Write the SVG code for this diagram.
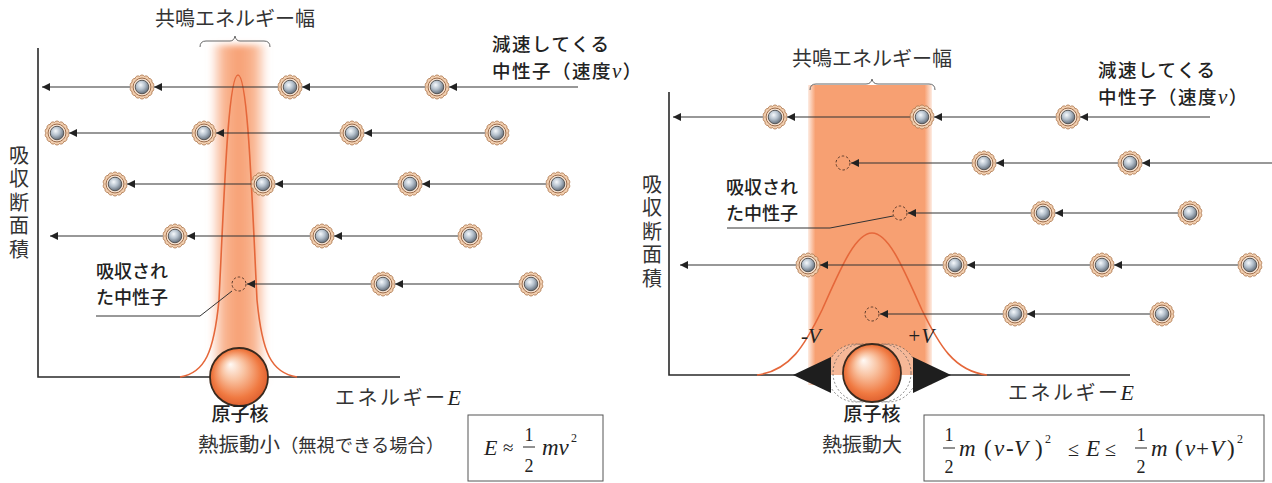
<svg xmlns="http://www.w3.org/2000/svg" width="1272" height="483" viewBox="0 0 1272 483">
  <style>
    .axis { stroke: #2a2a2a; stroke-width: 1.6; fill: none; }
    .conn { stroke: #333; stroke-width: 1.2; fill: none; marker-end: url(#arrow); }
    .curve { stroke: #e5673a; stroke-width: 1.6; fill: none; }
    .brace { stroke: #666; stroke-width: 1; fill: none; }
    .leader { stroke: #333; stroke-width: 1; fill: none; }
    .absorbed { stroke: #5a3a2a; stroke-width: 1; stroke-dasharray: 2.5 2; fill: none; }
    .mincho { font-family: "Noto Sans CJK JP", "Noto Sans", sans-serif; font-weight: 400; fill: #333; }
    .goth { font-family: "Noto Sans CJK JP", "Noto Sans", sans-serif; font-weight: 500; fill: #222; }
    .incoming { font-size: 18.5px; letter-spacing: 1.5px; }
    .vert { writing-mode: vertical-rl; letter-spacing: 3.5px; }
    .math { font-family: "Liberation Serif", "DejaVu Serif", serif; fill: #222; }
    .it { font-style: italic; }
    .box { stroke: #555; stroke-width: 1; fill: #fff; }
    .bar { stroke: #222; stroke-width: 1; }
  </style>
  <defs>
    <marker id="arrow" viewBox="0 0 10 10" refX="10" refY="5" markerWidth="9" markerHeight="8" markerUnits="userSpaceOnUse" orient="auto">
      <path d="M0,0 L10,5 L0,10 z" fill="#222"/>
    </marker>
    <radialGradient id="ball" cx="40%" cy="35%" r="65%">
      <stop offset="0" stop-color="#f6f9fc"/>
      <stop offset="0.5" stop-color="#b4c0cc"/>
      <stop offset="1" stop-color="#66707c"/>
    </radialGradient>
    <radialGradient id="nucleus" cx="50%" cy="50%" fx="35%" fy="28%" r="55%">
      <stop offset="0" stop-color="#fffaf6"/>
      <stop offset="0.35" stop-color="#f9c3a2"/>
      <stop offset="0.75" stop-color="#f07a42"/>
      <stop offset="1" stop-color="#d9582a"/>
    </radialGradient>
    <linearGradient id="bandL" x1="0" y1="0" x2="1" y2="0">
      <stop offset="0" stop-color="#f8a77c" stop-opacity="0"/>
      <stop offset="0.25" stop-color="#f8ac84" stop-opacity="0.9"/>
      <stop offset="0.5" stop-color="#f7a074" stop-opacity="1"/>
      <stop offset="0.75" stop-color="#f8ac84" stop-opacity="0.9"/>
      <stop offset="1" stop-color="#f8a77c" stop-opacity="0"/>
    </linearGradient>
    <linearGradient id="bandR" x1="0" y1="0" x2="1" y2="0">
      <stop offset="0" stop-color="#f7a072" stop-opacity="0.2"/>
      <stop offset="0.06" stop-color="#f7a072" stop-opacity="1"/>
      <stop offset="0.94" stop-color="#f7a072" stop-opacity="1"/>
      <stop offset="1" stop-color="#f7a072" stop-opacity="0.2"/>
    </linearGradient>
    <filter id="soft" x="-30%" y="-10%" width="160%" height="120%">
      <feGaussianBlur stdDeviation="3"/>
    </filter>
    <clipPath id="aboveAxis"><rect x="780" y="300" width="190" height="75"/></clipPath>
    <clipPath id="belowAxis"><rect x="780" y="375" width="190" height="40"/></clipPath>
    <!-- moving neutron: scalloped shell with grey core -->
    <symbol id="neutron" viewBox="-11 -11 22 22" width="24" height="24" overflow="visible">
      <path d="M10,0 A2.6,2.6 0 0 1 9.01,4.339 A2.6,2.6 0 0 1 6.235,7.818 A2.6,2.6 0 0 1 2.225,9.749 A2.6,2.6 0 0 1 -2.225,9.749 A2.6,2.6 0 0 1 -6.235,7.818 A2.6,2.6 0 0 1 -9.01,4.339 A2.6,2.6 0 0 1 -10,0 A2.6,2.6 0 0 1 -9.01,-4.339 A2.6,2.6 0 0 1 -6.235,-7.818 A2.6,2.6 0 0 1 -2.225,-9.749 A2.6,2.6 0 0 1 2.225,-9.749 A2.6,2.6 0 0 1 6.235,-7.818 A2.6,2.6 0 0 1 9.01,-4.339 A2.6,2.6 0 0 1 10,0 Z" fill="#f2cfb0" stroke="#b07a50" stroke-width="0.8"/>
      <circle r="8.2" fill="#f7e3d2" stroke="#9a6a48" stroke-width="0.9"/>
      <circle r="6.2" fill="url(#ball)" stroke="#4a4a4a" stroke-width="0.8"/>
    </symbol>
  </defs>

  <!-- ===================== left panel: small thermal motion ===================== -->
  <g id="left-band">
    <rect x="210" y="45" width="58" height="338" fill="url(#bandL)" filter="url(#soft)"/>
  </g>
  <g id="left-brace">
    <path class="brace" d="M200,47 Q200,41 206,41 L230,41 Q234,41 235,36 Q236,41 240,41 L264,41 Q270,41 270,47"/>
    <text class="mincho" x="235" y="26" font-size="20" text-anchor="middle">共鳴エネルギー幅</text>
  </g>
  <g id="left-axes">
    <path class="axis" d="M38,48 L38,377 L400,377"/>
    <text class="mincho vert" x="19" y="145" font-size="20">吸収断面積</text>
    <text class="mincho" x="335" y="405" font-size="20" letter-spacing="2.5">エネルギー<tspan class="math it" font-size="22" letter-spacing="0">E</tspan></text>
  </g>
  <g id="left-peak">
    <path class="curve" d="M180,377 C205,373 214,352 219,300 C224,200 228,75 238,75 C248,75 252,200 257,300 C262,352 271,373 297,377"/>
  </g>

  <g id="left-connectors">
    <path class="conn" d="M578,87 L449,87"/><path class="conn" d="M425,87 L302,87"/><path class="conn" d="M278,87 L154,87"/><path class="conn" d="M130,87 L42,87"/>
    <path class="conn" d="M485,133 L364,133"/><path class="conn" d="M340,133 L216,133"/><path class="conn" d="M192,133 L69,133"/>
    <path class="conn" d="M546,184 L422,184"/><path class="conn" d="M398,184 L275,184"/><path class="conn" d="M251,184 L127,184"/>
    <path class="conn" d="M458,236 L334,236"/><path class="conn" d="M310,236 L187,236"/><path class="conn" d="M163,236 L50,236"/>
    <path class="conn" d="M519,284 L395,284"/><path class="conn" d="M371,284 L247,284"/>
  </g>
  <g id="left-neutrons">
    <use href="#neutron" x="130" y="75"/><use href="#neutron" x="278" y="75"/><use href="#neutron" x="425" y="75"/>
    <use href="#neutron" x="45" y="121"/><use href="#neutron" x="192" y="121"/><use href="#neutron" x="340" y="121"/><use href="#neutron" x="485" y="121"/>
    <use href="#neutron" x="103" y="172"/><use href="#neutron" x="251" y="172"/><use href="#neutron" x="398" y="172"/><use href="#neutron" x="546" y="172"/>
    <use href="#neutron" x="163" y="224"/><use href="#neutron" x="310" y="224"/><use href="#neutron" x="458" y="224"/>
    <use href="#neutron" x="371" y="272"/><use href="#neutron" x="519" y="272"/>
    <circle class="absorbed" cx="239" cy="284" r="7"/>
  </g>
  <g id="left-absorbed-label">
    <text class="goth" font-size="18"><tspan x="96" y="278">吸収され</tspan><tspan x="96" y="304">た中性子</tspan></text>
    <path class="leader" d="M96,316 L200,316 L232,291"/>
  </g>
  <g id="left-incoming-label">
    <text class="goth incoming" x="492" y="51">減速してくる</text>
    <text class="goth incoming" x="492" y="78">中性子（速度<tspan class="math it" font-size="21">v</tspan>）</text>
  </g>
  <g id="left-nucleus">
    <circle cx="239" cy="377" r="29" fill="url(#nucleus)" stroke="#3a2a1e" stroke-width="1.8"/>
    <text class="goth" x="240" y="421" font-size="19" font-weight="700" text-anchor="middle">原子核</text>
    <text class="mincho" x="198" y="452" font-size="20.5">熱振動小<tspan font-size="18.3">（無視できる場合）</tspan></text>
  </g>
  <g id="left-formula">
    <rect class="box" x="468" y="415" width="135" height="66"/>
    <text class="math it" x="484" y="455" font-size="22">E</text>
    <text class="math" x="503" y="454" font-size="19">≈</text>
    <text class="math" x="529" y="441" font-size="18" text-anchor="middle">1</text>
    <line class="bar" x1="523" y1="447" x2="535" y2="447"/>
    <text class="math" x="529" y="472" font-size="18" text-anchor="middle">2</text>
    <text class="math it" x="542" y="455" font-size="23">mv</text>
    <text class="math" x="571" y="442" font-size="12">2</text>
  </g>

  <!-- ===================== right panel: large thermal motion ===================== -->
  <g id="right-band">
    <rect x="808" y="85" width="124" height="300" fill="url(#bandR)"/>
  </g>
  <g id="right-brace">
    <path class="brace" d="M810,90 Q810,84 816,84 L866,84 Q871,84 872,79 Q873,84 878,84 L929,84 Q935,84 935,90"/>
    <text class="mincho" x="872" y="66" font-size="20" text-anchor="middle">共鳴エネルギー幅</text>
  </g>
  <g id="right-axes">
    <path class="axis" d="M669,92 L669,375 L1130,375"/>
    <text class="mincho vert" x="652" y="174" font-size="20">吸収断面積</text>
    <text class="mincho" x="1008" y="400" font-size="20" letter-spacing="2.5">エネルギー<tspan class="math it" font-size="22" letter-spacing="0">E</tspan></text>
  </g>
  <g id="right-peak">
    <path class="curve" d="M757,375 C790,371 805,345 822,310 C840,270 855,233 872,233 C889,233 904,270 922,310 C939,345 954,371 987,375"/>
  </g>

  <g id="right-connectors">
    <path class="conn" d="M1210,117 L1080,117"/><path class="conn" d="M1056,117 L934,117"/><path class="conn" d="M910,117 L787,117"/><path class="conn" d="M763,117 L673,117"/>
    <path class="conn" d="M1272,163 L1142,163"/><path class="conn" d="M1118,163 L996,163"/><path class="conn" d="M972,163 L851,163"/>
    <path class="conn" d="M1178,213 L1055,213"/><path class="conn" d="M1031,213 L908,213"/>
    <path class="conn" d="M1238,265 L1114,265"/><path class="conn" d="M1090,265 L967,265"/><path class="conn" d="M943,265 L820,265"/><path class="conn" d="M796,265 L680,265"/>
    <path class="conn" d="M1150,314 L1027,314"/><path class="conn" d="M1003,314 L880,314"/>
  </g>
  <g id="right-neutrons">
    <use href="#neutron" x="763" y="105"/><use href="#neutron" x="910" y="105"/><use href="#neutron" x="1056" y="105"/>
    <use href="#neutron" x="972" y="151"/><use href="#neutron" x="1118" y="151"/>
    <use href="#neutron" x="1031" y="201"/><use href="#neutron" x="1178" y="201"/>
    <use href="#neutron" x="796" y="253"/><use href="#neutron" x="943" y="253"/><use href="#neutron" x="1090" y="253"/><use href="#neutron" x="1238" y="253"/>
    <use href="#neutron" x="1003" y="302"/><use href="#neutron" x="1150" y="302"/>
    <circle class="absorbed" cx="843" cy="163" r="7"/>
    <circle class="absorbed" cx="900" cy="213" r="7"/>
    <circle class="absorbed" cx="872" cy="314" r="7"/>
  </g>
  <g id="right-absorbed-label">
    <text class="goth" font-size="18"><tspan x="726" y="194">吸収され</tspan><tspan x="726" y="220">た中性子</tspan></text>
    <path class="leader" d="M727,228 L830,228 L893,216"/>
  </g>
  <g id="right-incoming-label">
    <text class="goth incoming" x="1098" y="77">減速してくる</text>
    <text class="goth incoming" x="1098" y="104">中性子（速度<tspan class="math it" font-size="21">v</tspan>）</text>
  </g>
  <g id="right-nucleus">
    <!-- swept positions of the vibrating nucleus -->
    <g clip-path="url(#aboveAxis)">
      <ellipse cx="856" cy="373" rx="29" ry="29" fill="#f6b898" stroke="#555" stroke-width="0.7" stroke-dasharray="2 2"/>
      <ellipse cx="888" cy="373" rx="29" ry="29" fill="#f6b898" stroke="#555" stroke-width="0.7" stroke-dasharray="2 2"/>
      <ellipse cx="862" cy="373" rx="29" ry="29" fill="none" stroke="#555" stroke-width="0.7" stroke-dasharray="2 2"/>
      <ellipse cx="882" cy="373" rx="29" ry="29" fill="none" stroke="#555" stroke-width="0.7" stroke-dasharray="2 2"/>
    </g>
    <g clip-path="url(#belowAxis)">
      <ellipse cx="856" cy="373" rx="29" ry="29" fill="#fff" stroke="#555" stroke-width="0.7" stroke-dasharray="2 2"/>
      <ellipse cx="888" cy="373" rx="29" ry="29" fill="#fff" stroke="#555" stroke-width="0.7" stroke-dasharray="2 2"/>
      <ellipse cx="862" cy="373" rx="29" ry="29" fill="none" stroke="#555" stroke-width="0.7" stroke-dasharray="2 2"/>
      <ellipse cx="882" cy="373" rx="29" ry="29" fill="none" stroke="#555" stroke-width="0.7" stroke-dasharray="2 2"/>
    </g>
    <path d="M793,375 L831,357 L831,393 Z" fill="#1e1e1e"/>
    <path d="M951,375 L913,357 L913,393 Z" fill="#1e1e1e"/>
    <circle cx="872" cy="373" r="29" fill="url(#nucleus)" stroke="#3a2a1e" stroke-width="1.8"/>
    <text class="math it" x="801" y="343" font-size="21">-V</text>
    <text class="math it" x="907" y="343" font-size="21">+V</text>
    <text class="goth" x="872" y="421" font-size="19" font-weight="700" text-anchor="middle">原子核</text>
    <text class="mincho" x="822" y="452" font-size="20">熱振動大</text>
  </g>
  <g id="right-formula">
    <rect class="box" x="924" y="415" width="340" height="66"/>
    <text class="math" x="949" y="441" font-size="18" text-anchor="middle">1</text>
    <line class="bar" x1="943" y1="448" x2="955" y2="448"/>
    <text class="math" x="949" y="473" font-size="18" text-anchor="middle">2</text>
    <text class="math it" x="959" y="456" font-size="23">m</text>
    <text class="math" x="984" y="456" font-size="23">(</text>
    <text class="math it" x="994" y="456" font-size="23">v</text>
    <text class="math" x="1006" y="456" font-size="23">-</text>
    <text class="math it" x="1014" y="456" font-size="23">V</text>
    <text class="math" x="1035" y="456" font-size="23">)</text>
    <text class="math" x="1045" y="443" font-size="12">2</text>
    <text class="math" x="1068" y="456" font-size="20">≤</text>
    <text class="math it" x="1086" y="456" font-size="23">E</text>
    <text class="math" x="1105" y="456" font-size="20">≤</text>
    <text class="math" x="1141" y="441" font-size="18" text-anchor="middle">1</text>
    <line class="bar" x1="1135" y1="448" x2="1147" y2="448"/>
    <text class="math" x="1141" y="473" font-size="18" text-anchor="middle">2</text>
    <text class="math it" x="1151" y="456" font-size="23">m</text>
    <text class="math" x="1175" y="456" font-size="23">(</text>
    <text class="math it" x="1185" y="456" font-size="23">v</text>
    <text class="math" x="1196" y="456" font-size="23">+</text>
    <text class="math it" x="1210" y="456" font-size="23">V</text>
    <text class="math" x="1227" y="456" font-size="23">)</text>
    <text class="math" x="1237" y="443" font-size="12">2</text>
  </g>
</svg>
